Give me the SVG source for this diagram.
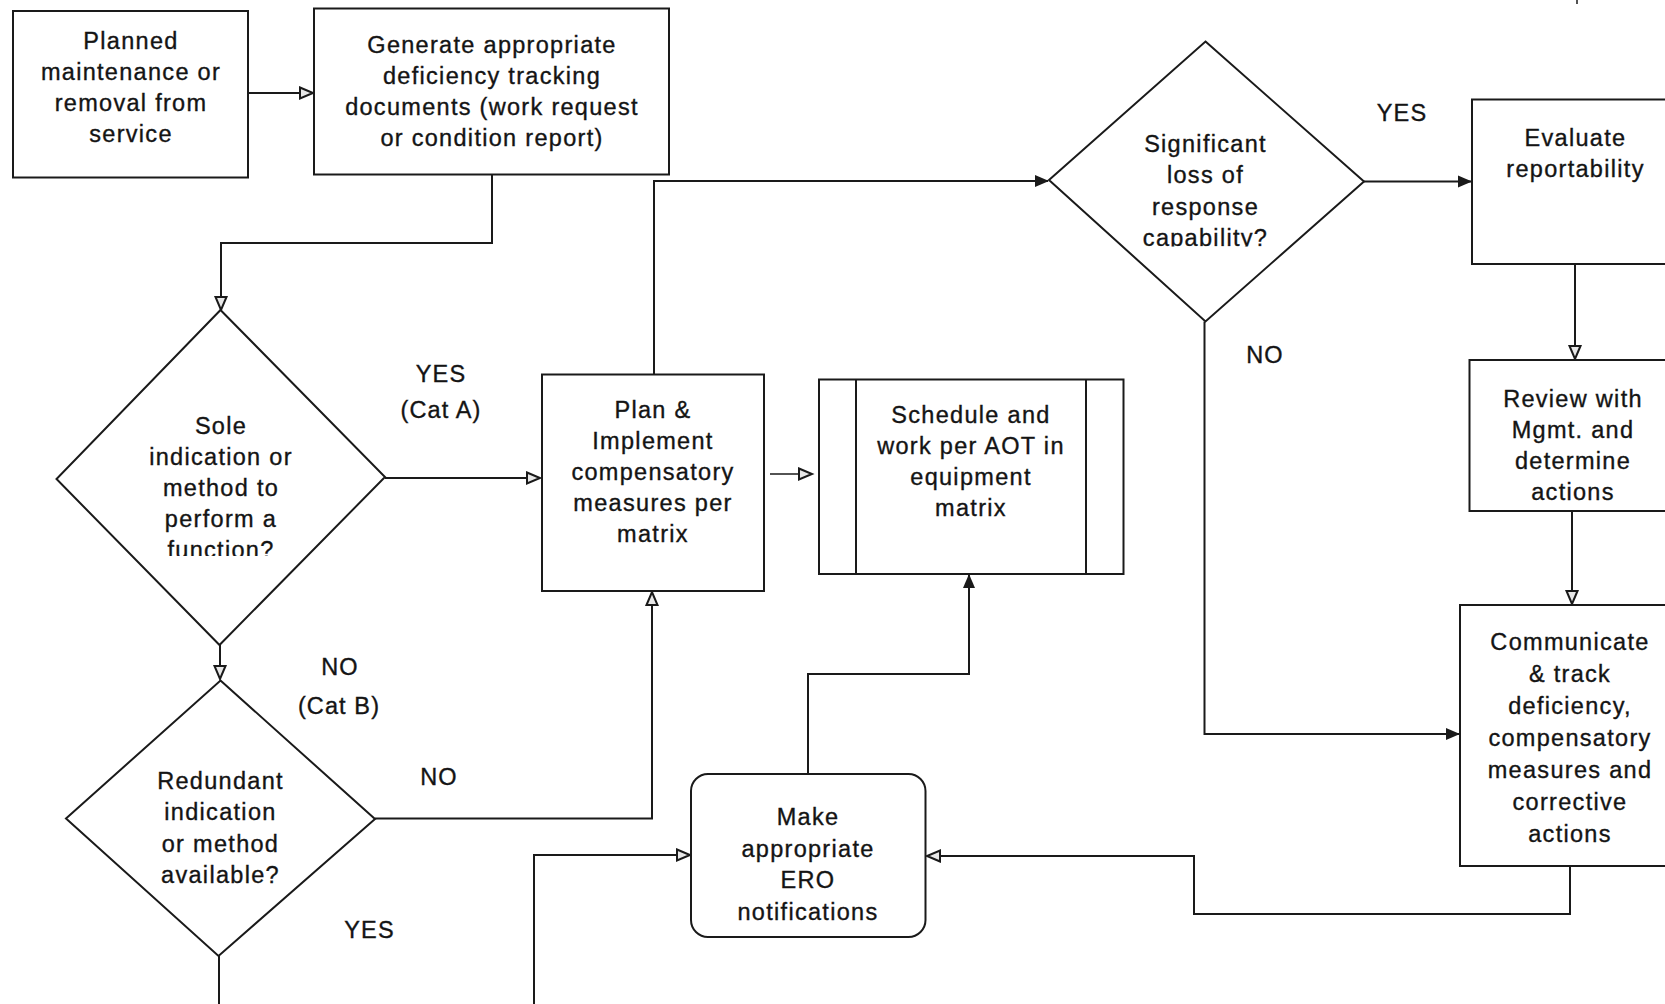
<svg xmlns="http://www.w3.org/2000/svg" width="1665" height="1004" viewBox="0 0 1665 1004">
  <style>
    .box { fill: #fff; stroke: #1a1a1a; stroke-width: 2; }
    .line { fill: none; stroke: #1a1a1a; stroke-width: 2; }
    .thin { fill: none; stroke: #1a1a1a; stroke-width: 1.5; }
    .t { font-family: "Liberation Sans", Arial, sans-serif; font-size: 23.5px; letter-spacing: 1.3px; fill: #141414; stroke: #141414; stroke-width: 0.35px; text-anchor: middle; }
    .lbl { font-family: "Liberation Sans", Arial, sans-serif; font-size: 23.5px; letter-spacing: 1.1px; fill: #141414; stroke: #141414; stroke-width: 0.35px; text-anchor: middle; }
  </style>
  <defs>
    <marker id="open" viewBox="0 0 16 14" refX="14" refY="7" markerWidth="16" markerHeight="14" markerUnits="userSpaceOnUse" orient="auto" overflow="visible">
      <path d="M1,1.5 L14,7 L1,12.5 Z" fill="#e8e8e8" stroke="#1a1a1a" stroke-width="2" stroke-linejoin="miter"/>
    </marker>
    <marker id="solid" viewBox="0 0 14 12" refX="13" refY="6" markerWidth="14" markerHeight="12" markerUnits="userSpaceOnUse" orient="auto" overflow="visible">
      <path d="M0,0 L14,6 L0,12 Z" fill="#1a1a1a"/>
    </marker>
    <clipPath id="clip-sole"><rect x="0" y="300" width="450" height="256"/></clipPath>
    <clipPath id="clip-loss"><rect x="1000" y="30" width="420" height="216.5"/></clipPath>
  </defs>

  <rect width="1665" height="1004" fill="#fff"/>

  <!-- connectors -->
  <g id="connectors">
    <path class="line" d="M248,93 H313" marker-end="url(#open)"/>
    <path class="line" d="M492,174.5 V243 H221 V310" marker-end="url(#open)"/>
    <path class="line" d="M385,478 H540" marker-end="url(#open)"/>
    <path class="thin" d="M770,474 H812" marker-end="url(#open)"/>
    <path class="line" d="M654,374.5 V181 H1048" marker-end="url(#solid)"/>
    <path class="line" d="M1364,181.5 H1471" marker-end="url(#solid)"/>
    <path class="line" d="M1575,264 V359" marker-end="url(#open)"/>
    <path class="line" d="M1572,511 V604" marker-end="url(#open)"/>
    <path class="line" d="M1204.5,321.5 V734 H1459" marker-end="url(#solid)"/>
    <path class="line" d="M1570,866 V914 H1194 V856 H927" marker-end="url(#open)"/>
    <path class="line" d="M808,774 V674 H969 V575" marker-end="url(#solid)"/>
    <path class="line" d="M220,629 V679" marker-end="url(#open)"/>
    <path class="line" d="M375,818.5 H652 V592" marker-end="url(#open)"/>
    <path class="line" d="M219,956 V1004"/>
    <path class="line" d="M534,1004 V855 H690" marker-end="url(#open)"/>
    <path class="thin" d="M1577,0 V4"/>
  </g>

  <!-- start -->
  <g id="planned">
    <rect class="box" x="13" y="11" width="235" height="166.5"/>
    <text class="t" x="131" y="49">Planned</text>
    <text class="t" x="131" y="80">maintenance or</text>
    <text class="t" x="131" y="111">removal from</text>
    <text class="t" x="131" y="142">service</text>
  </g>

  <g id="generate">
    <rect class="box" x="314" y="8.5" width="355" height="166"/>
    <text class="t" x="492" y="53">Generate appropriate</text>
    <text class="t" x="492" y="84">deficiency tracking</text>
    <text class="t" x="492" y="115">documents (work request</text>
    <text class="t" x="492" y="146">or condition report)</text>
  </g>

  <g id="sole">
    <polygon class="box" points="220.5,310 385,477 219.5,645 56.5,479"/>
    <g clip-path="url(#clip-sole)">
      <text class="t" x="221" y="434">Sole</text>
      <text class="t" x="221" y="465">indication or</text>
      <text class="t" x="221" y="496">method to</text>
      <text class="t" x="221" y="527">perform a</text>
      <text class="t" x="221" y="558">function?</text>
    </g>
  </g>

  <g id="redundant">
    <polygon class="box" points="220.5,680.5 375,819 218.5,956 66,818.5"/>
    <text class="t" x="220.5" y="789">Redundant</text>
    <text class="t" x="220.5" y="820">indication</text>
    <text class="t" x="220.5" y="852">or method</text>
    <text class="t" x="220.5" y="883">available?</text>
  </g>

  <g id="plan">
    <rect class="box" x="542" y="374.5" width="222" height="216.5"/>
    <text class="t" x="653" y="418">Plan &amp;</text>
    <text class="t" x="653" y="449">Implement</text>
    <text class="t" x="653" y="480">compensatory</text>
    <text class="t" x="653" y="511">measures per</text>
    <text class="t" x="653" y="542">matrix</text>
  </g>

  <g id="schedule">
    <rect class="box" x="819" y="379.5" width="304.5" height="194.5"/>
    <line class="line" x1="856" y1="379.5" x2="856" y2="574"/>
    <line class="line" x1="1086" y1="379.5" x2="1086" y2="574"/>
    <text class="t" x="971" y="423">Schedule and</text>
    <text class="t" x="971" y="454">work per AOT in</text>
    <text class="t" x="971" y="485">equipment</text>
    <text class="t" x="971" y="516">matrix</text>
  </g>

  <g id="ero">
    <rect class="box" x="691" y="774" width="234.5" height="163" rx="17" ry="17"/>
    <text class="t" x="808" y="825">Make</text>
    <text class="t" x="808" y="857">appropriate</text>
    <text class="t" x="808" y="888">ERO</text>
    <text class="t" x="808" y="920">notifications</text>
  </g>

  <g id="significant">
    <polygon class="box" points="1205.5,41.5 1364,181.5 1205.5,321.5 1049,180"/>
    <g clip-path="url(#clip-loss)">
      <text class="t" x="1205.5" y="152">Significant</text>
      <text class="t" x="1205.5" y="183">loss of</text>
      <text class="t" x="1205.5" y="215">response</text>
      <text class="t" x="1205.5" y="246">capability?</text>
    </g>
  </g>

  <g id="evaluate">
    <rect class="box" x="1472" y="99.5" width="230" height="164.5"/>
    <text class="t" x="1575.5" y="146">Evaluate</text>
    <text class="t" x="1575.5" y="177">reportability</text>
  </g>

  <g id="review">
    <rect class="box" x="1469.5" y="360" width="230" height="151"/>
    <text class="t" x="1573" y="407">Review with</text>
    <text class="t" x="1573" y="438">Mgmt. and</text>
    <text class="t" x="1573" y="469">determine</text>
    <text class="t" x="1573" y="500">actions</text>
  </g>

  <g id="communicate">
    <rect class="box" x="1460" y="605" width="240" height="261"/>
    <text class="t" x="1570" y="650">Communicate</text>
    <text class="t" x="1570" y="682">&amp; track</text>
    <text class="t" x="1570" y="714">deficiency,</text>
    <text class="t" x="1570" y="746">compensatory</text>
    <text class="t" x="1570" y="778">measures and</text>
    <text class="t" x="1570" y="810">corrective</text>
    <text class="t" x="1570" y="842">actions</text>
  </g>

  <!-- branch labels -->
  <g id="labels">
    <text class="lbl" x="441" y="382">YES</text>
    <text class="lbl" x="441" y="418">(Cat A)</text>
    <text class="lbl" x="340" y="675">NO</text>
    <text class="lbl" x="339" y="714">(Cat B)</text>
    <text class="lbl" x="439" y="785">NO</text>
    <text class="lbl" x="369.5" y="938">YES</text>
    <text class="lbl" x="1402" y="121">YES</text>
    <text class="lbl" x="1265" y="363">NO</text>
  </g>
</svg>
